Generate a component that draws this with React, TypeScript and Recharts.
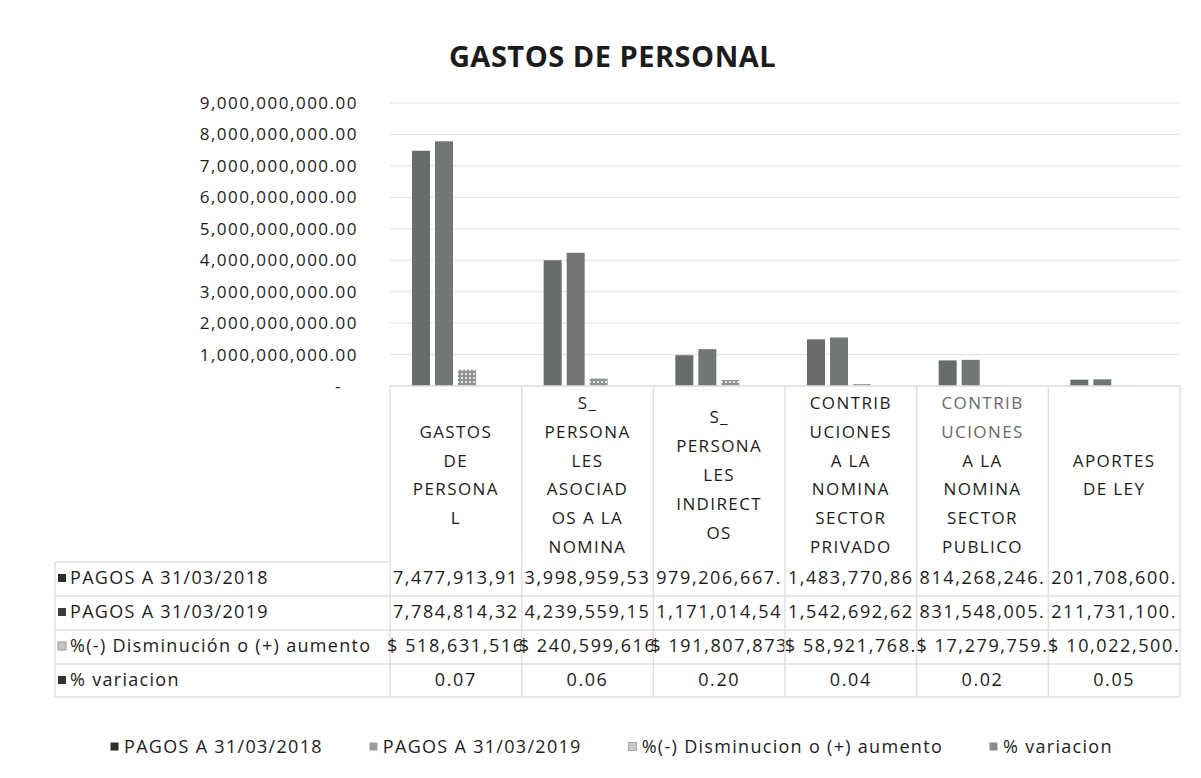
import { BarChart, Bar, XAxis, YAxis, CartesianGrid, Legend } from 'recharts'

// category labels as Excel wrapped them
const categoryLines = [
  ['GASTOS', 'DE', 'PERSONA', 'L'],
  ['S_', 'PERSONA', 'LES', 'ASOCIAD', 'OS A LA', 'NOMINA'],
  ['S_', 'PERSONA', 'LES', 'INDIRECT', 'OS'],
  ['CONTRIB', 'UCIONES', 'A LA', 'NOMINA', 'SECTOR', 'PRIVADO'],
  ['CONTRIB', 'UCIONES', 'A LA', 'NOMINA', 'SECTOR', 'PUBLICO'],
  ['APORTES', 'DE LEY'],
]
const pagos2018 = [7477913910, 3998959530, 979206667, 1483770860, 814268246, 201708600]
const pagos2019 = [7784814320, 4239559150, 1171014540, 1542692620, 831548005, 211731100]
const diferencia = [518631516, 240599616, 191807873, 58921768, 17279759, 10022500]
const variacion = [0.07, 0.06, 0.2, 0.04, 0.02, 0.05]
const yTicks = [0, 1e9, 2e9, 3e9, 4e9, 5e9, 6e9, 7e9, 8e9, 9e9]
const seriesNames = [
  'PAGOS A 31/03/2018',
  'PAGOS A 31/03/2019',
  '%(-) Disminución o (+) aumento',
  '% variacion',
]
const legendNames = [
  'PAGOS A 31/03/2018',
  'PAGOS A 31/03/2019',
  '%(-) Disminucion o (+) aumento',
  '% variacion',
]

const W = 1201
const H = 778
const Y_AXIS_W = 390
const RIGHT = 21
const PLOT_W = W - Y_AXIS_W - RIGHT
const FONT = '"Open Sans", sans-serif'
const TEXT = '#1c1c1c'
const GRID = '#e0e0e0'
const COLORS = ['#686d6b', '#727775', 'url(#dismPattern)', '#7d8280']
const ROW_SWATCH = ['#2e2e2e', '#3a3a3a', '#c2c5c3', '#333333']
const LEGEND_SWATCH = ['#2e2e2e', '#9a9d9b', '#c8cbc9', '#8a8d8b']

const data = categoryLines.map((lines, i) => ({
  name: lines.join(' '),
  pagos2018: pagos2018[i],
  pagos2019: pagos2019[i],
  diferencia: diferencia[i],
  variacion: variacion[i],
}))

// Excel cuts the numbers at the column width
const money = (v: number) => v.toLocaleString('en-US', { minimumFractionDigits: 2, maximumFractionDigits: 2 })
const rows = [
  pagos2018.map((v) => money(v).slice(0, 12)),
  pagos2019.map((v) => money(v).slice(0, 12)),
  diferencia.map((v) => ('$ ' + money(v)).slice(0, 13)),
  variacion.map((v) => v.toFixed(2)),
]

const ROW_H = 34
const ROWS_TOP = 176 // below axis line
const HEADER_W = 335

function CategoryTick(props: any) {
  const { x, y, index } = props
  const half = PLOT_W / categoryLines.length / 2
  const lines = categoryLines[index]
  const lineH = 28.8
  const start = y + 89 - ((lines.length - 1) * lineH) / 2
  const tableBottom = y + ROWS_TOP + ROW_H * rows.length - 1
  const left = x - half
  return (
    <g>
      <line x1={left} x2={left} y1={y} y2={tableBottom} stroke={GRID} strokeWidth={1.5} />
      {index === categoryLines.length - 1 && (
        <line x1={x + half} x2={x + half} y1={y} y2={tableBottom} stroke={GRID} strokeWidth={1.5} />
      )}
      {lines.map((l, k) => (
        <text
          key={k}
          x={x}
          y={start + k * lineH}
          dy="0.35em"
          textAnchor="middle"
          fontFamily={FONT}
          fontSize={17}
          letterSpacing={1.4}
          fill={index === 4 && k < 2 ? '#6a6a6a' : TEXT}
        >
          {l}
        </text>
      ))}
      {rows.map((r, k) => (
        <text
          key={'v' + k}
          x={x}
          y={y + 192 + k * ROW_H}
          dy="0.35em"
          textAnchor="middle"
          fontFamily={FONT}
          fontSize={18}
          letterSpacing={1.6}
          fill={TEXT}
        >
          {r[index]}
        </text>
      ))}
      {index === 0 && (
        <g>
          <line x1={left - HEADER_W} x2={left - HEADER_W} y1={y + ROWS_TOP} y2={tableBottom} stroke={GRID} strokeWidth={1.5} />
          <line x1={left - HEADER_W} x2={left} y1={y + ROWS_TOP} y2={y + ROWS_TOP} stroke={GRID} strokeWidth={1.5} />
          {[1, 2, 3].map((k) => (
            <line
              key={'h' + k}
              x1={left - HEADER_W}
              x2={left + PLOT_W}
              y1={y + ROWS_TOP + k * ROW_H}
              y2={y + ROWS_TOP + k * ROW_H}
              stroke={GRID}
              strokeWidth={1.5}
            />
          ))}
          <line x1={left - HEADER_W} x2={left + PLOT_W} y1={tableBottom} y2={tableBottom} stroke={GRID} strokeWidth={1.5} />
          {seriesNames.map((n, k) => (
            <g key={'r' + k}>
              <rect
                x={left - HEADER_W + 3}
                y={y + 188 + k * ROW_H}
                width={8}
                height={8}
                fill={ROW_SWATCH[k]}
                stroke={k === 2 ? '#9a9d9b' : 'none'}
              />
              <text
                x={left - HEADER_W + 15}
                y={y + 192 + k * ROW_H}
                dy="0.35em"
                fontFamily={FONT}
                fontSize={18}
                letterSpacing={1.3}
                fill={TEXT}
              >
                {n}
              </text>
            </g>
          ))}
        </g>
      )}
    </g>
  )
}

function ValueTick(props: any) {
  const { x, y, payload } = props
  const v = payload.value as number
  return (
    <text
      x={v === 0 ? x - 16 : x}
      y={y}
      dy="0.35em"
      textAnchor="end"
      fontFamily={FONT}
      fontSize={17}
      letterSpacing={1.5}
      fill={TEXT}
    >
      {v === 0 ? '-' : money(v)}
    </text>
  )
}

function LegendContent() {
  return (
    <div style={{ display: 'flex', gap: 46, fontFamily: FONT, fontSize: 18, letterSpacing: 1.3, color: TEXT }}>
      {legendNames.map((n, i) => (
        <div key={n} style={{ display: 'flex', alignItems: 'center' }}>
          <svg width={9} height={9} style={{ marginRight: 5 }}>
            <rect x={0.5} y={0.5} width={8} height={8} fill={LEGEND_SWATCH[i]} stroke={i === 2 ? '#a4a7a5' : 'none'} />
          </svg>
          <span>{n}</span>
        </div>
      ))}
    </div>
  )
}

export default function App() {
  return (
    <div style={{ position: 'absolute', left: 0, top: 0, width: W, height: H, background: '#fff' }}>
      <div
        style={{
          position: 'absolute',
          top: 36,
          left: 0,
          width: W,
          paddingLeft: 24,
          boxSizing: 'border-box',
          textAlign: 'center',
          fontFamily: FONT,
          fontWeight: 700,
          fontSize: 29,
          letterSpacing: 0.5,
          color: TEXT,
        }}
      >
        GASTOS DE PERSONAL
      </div>
      <BarChart
        width={W}
        height={H}
        data={data}
        margin={{ top: 103, right: RIGHT, left: 0, bottom: 0 }}
        barCategoryGap={22}
        barGap={5}
      >
        <defs>
          <pattern id="dismPattern" width={4} height={4} patternUnits="userSpaceOnUse">
            <rect width={4} height={4} fill="#8f9391" />
            <rect x={1} y={1} width={2} height={2} fill="#e2e4e3" />
          </pattern>
        </defs>
        <CartesianGrid vertical={false} stroke={GRID} />
        <XAxis
          dataKey="name"
          interval={0}
          height={H - 386}
          tickSize={0}
          tickMargin={0}
          tickLine={false}
          axisLine={{ stroke: GRID, strokeWidth: 1.5 }}
          tick={CategoryTick}
        />
        <YAxis
          width={Y_AXIS_W}
          domain={[0, 9e9]}
          ticks={yTicks}
          interval={0}
          tickSize={0}
          tickMargin={32}
          tickLine={false}
          axisLine={false}
          tick={ValueTick}
        />
        <Legend
          layout="horizontal"
          verticalAlign="middle"
          align="center"
          wrapperStyle={{ top: 734, left: 110, width: 1080 }}
          content={LegendContent}
        />
        <Bar dataKey="pagos2018" name={seriesNames[0]} fill={COLORS[0]} isAnimationActive={false} />
        <Bar dataKey="pagos2019" name={seriesNames[1]} fill={COLORS[1]} isAnimationActive={false} />
        <Bar dataKey="diferencia" name={seriesNames[2]} fill={COLORS[2]} isAnimationActive={false} />
        <Bar dataKey="variacion" name={seriesNames[3]} fill={COLORS[3]} isAnimationActive={false} />
      </BarChart>
    </div>
  )
}
